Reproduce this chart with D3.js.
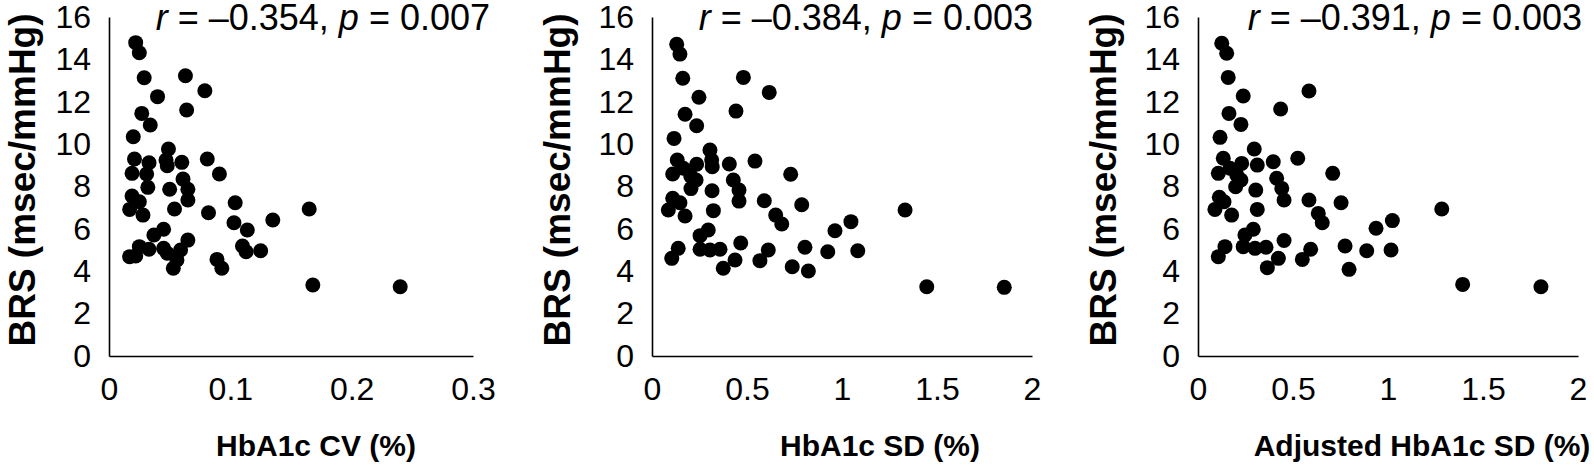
<!DOCTYPE html>
<html>
<head>
<meta charset="utf-8">
<script src="https://cdn.jsdelivr.net/npm/d3@7"></script>
<style>
  body { margin: 0; background: #fff; }
  svg { display: block; font-family: "Liberation Sans", Arial, sans-serif; }
  .domain { stroke: #000; stroke-width: 1.6px; }
</style>
</head>
<body>
<div id="chart"></div>
<script>
// ---- data ----
const brsTicks = [0, 2, 4, 6, 8, 10, 12, 14, 16]
const cvTicks = [0, 0.1, 0.2, 0.3]
const sdTicks = [0, 0.5, 1, 1.5, 2]

const cvX = [0.022, 0.025, 0.029, 0.063, 0.079, 0.040, 0.064, 0.027, 0.034, 0.020, 0.049, 0.021, 0.033, 0.047, 0.048, 0.060, 0.081, 0.019, 0.031, 0.091, 0.061, 0.032, 0.050, 0.065, 0.019, 0.025, 0.065, 0.104, 0.017, 0.028, 0.054, 0.082, 0.165, 0.135, 0.103, 0.114, 0.045, 0.037, 0.065, 0.025, 0.017, 0.022, 0.033, 0.045, 0.048, 0.059, 0.056, 0.053, 0.110, 0.113, 0.125, 0.089, 0.093, 0.168, 0.240]
const cvY = [14.79, 14.31, 13.13, 13.23, 12.52, 12.24, 11.61, 11.45, 10.90, 10.35, 9.77, 9.30, 9.12, 9.25, 8.98, 9.14, 9.30, 8.62, 8.59, 8.59, 8.35, 7.96, 7.87, 7.87, 7.55, 7.28, 7.36, 7.23, 6.92, 6.65, 6.94, 6.76, 6.94, 6.42, 6.29, 5.95, 5.98, 5.71, 5.47, 5.16, 4.69, 4.72, 5.04, 5.08, 4.85, 5.00, 4.53, 4.14, 5.19, 4.92, 4.97, 4.56, 4.14, 3.35, 3.27]

const sdX = [0.130, 0.147, 0.162, 0.481, 0.617, 0.247, 0.442, 0.174, 0.235, 0.116, 0.305, 0.133, 0.235, 0.314, 0.317, 0.407, 0.542, 0.109, 0.165, 0.204, 0.232, 0.730, 0.428, 0.205, 0.316, 0.458, 0.109, 0.147, 0.458, 0.591, 0.788, 0.086, 0.174, 0.323, 1.332, 0.651, 0.683, 1.047, 0.963, 0.296, 0.253, 0.467, 0.138, 0.104, 0.253, 0.305, 0.358, 0.437, 0.375, 0.612, 0.568, 0.805, 0.738, 0.823, 0.925, 1.083, 1.446, 1.854]
const sdY = [14.71, 14.25, 13.11, 13.15, 12.44, 12.21, 11.56, 11.41, 10.87, 10.27, 9.72, 9.25, 9.05, 9.25, 8.93, 9.06, 9.20, 8.59, 8.86, 8.49, 8.31, 8.58, 8.31, 7.90, 7.80, 7.83, 7.44, 7.23, 7.31, 7.33, 7.14, 6.89, 6.61, 6.86, 6.89, 6.65, 6.23, 6.34, 5.91, 5.95, 5.68, 5.33, 5.08, 4.61, 5.04, 5.00, 5.04, 4.53, 4.14, 5.00, 4.50, 5.13, 4.21, 4.01, 4.92, 4.97, 3.27, 3.24]

const adjX = [0.125, 0.151, 0.159, 0.584, 0.238, 0.435, 0.163, 0.226, 0.116, 0.296, 0.133, 0.230, 0.312, 0.396, 0.525, 0.107, 0.168, 0.204, 0.226, 0.709, 0.414, 0.198, 0.304, 0.441, 0.112, 0.137, 0.453, 0.584, 0.753, 0.089, 0.177, 0.312, 1.283, 0.633, 0.654, 1.023, 0.937, 0.291, 0.247, 0.453, 0.142, 0.107, 0.238, 0.300, 0.358, 0.423, 0.365, 0.593, 0.549, 0.774, 0.795, 0.888, 1.016, 1.393, 1.805]
const adjY = [14.76, 14.29, 13.15, 12.51, 12.27, 11.66, 11.45, 10.93, 10.32, 9.77, 9.33, 9.09, 9.01, 9.17, 9.33, 8.62, 8.86, 8.54, 8.31, 8.62, 8.39, 7.99, 7.83, 7.91, 7.49, 7.28, 7.36, 7.36, 7.23, 6.92, 6.65, 6.92, 6.94, 6.73, 6.29, 6.39, 6.03, 5.98, 5.71, 5.45, 5.16, 4.69, 5.16, 5.08, 5.13, 4.61, 4.17, 5.04, 4.56, 5.19, 4.09, 4.97, 5.00, 3.38, 3.27]

const xTitles = ["HbA1c CV (%)", "HbA1c SD (%)", "Adjusted HbA1c SD (%)"]
const yTitle = "BRS (msec/mmHg)"
const rValues = ["–0.354", "–0.384", "–0.391"]
const pValues = ["0.007", "0.003", "0.003"]

// ---- layout ----
const WIDTH = 1594
const HEIGHT = 470
const Y_TOP = 17
const Y_BOTTOM = 356

const panels = [
  { xs: cvX, ys: cvY, ticks: cvTicks, max: 0.3, left: 109, right: 473, yTitleX: 22, titleX: 316, statX: 490 },
  { xs: sdX, ys: sdY, ticks: sdTicks, max: 2, left: 652, right: 1032, yTitleX: 557, titleX: 880, statX: 1033 },
  { xs: adjX, ys: adjY, ticks: sdTicks, max: 2, left: 1198, right: 1578, yTitleX: 1103, titleX: 1422, statX: 1582 }
]

const svg = d3.select("#chart").append("svg")
  .attr("width", WIDTH)
  .attr("height", HEIGHT)

const y = d3.scaleLinear().domain([0, 16]).range([Y_BOTTOM, Y_TOP])

panels.forEach((p, i) => {
  const g = svg.append("g")

  const x = d3.scaleLinear().domain([0, p.max]).range([p.left, p.right])

  // y axis
  const yAxis = g.append("g")
    .attr("transform", `translate(${p.left}, 0)`)
    .call(d3.axisLeft(y).tickValues(brsTicks).tickSize(0).tickPadding(18).tickSizeOuter(0))
  yAxis.selectAll("text")
    .attr("font-size", "32px")
    .attr("font-family", "Liberation Sans, Arial, sans-serif")
    .attr("fill", "#000")

  // x axis
  const xAxis = g.append("g")
    .attr("transform", `translate(0, ${Y_BOTTOM})`)
    .call(d3.axisBottom(x).tickValues(p.ticks).tickSize(0).tickPadding(21).tickSizeOuter(0)
      .tickFormat(d3.format("")))
  xAxis.selectAll("text")
    .attr("font-size", "32px")
    .attr("font-family", "Liberation Sans, Arial, sans-serif")
    .attr("fill", "#000")

  // points
  const pts = p.xs.map((v, k) => ({ x: v, y: p.ys[k] }))
  g.selectAll(".dot")
    .data(pts)
    .enter().append("circle")
      .attr("class", "dot")
      .attr("cx", d => x(d.x))
      .attr("cy", d => y(d.y))
      .attr("r", 7.5)
      .attr("fill", "#000")

  // y title
  g.append("text")
    .attr("transform", `translate(${p.yTitleX}, 180) rotate(-90)`)
    .attr("text-anchor", "middle")
    .attr("dy", "0.35em")
    .attr("font-size", "37px")
    .attr("font-weight", "bold")
    .text(yTitle)

  // x title
  g.append("text")
    .attr("x", p.titleX)
    .attr("y", 456)
    .attr("text-anchor", "middle")
    .attr("font-size", "30px")
    .attr("font-weight", "bold")
    .text(xTitles[i])

  // correlation text
  const stat = g.append("text")
    .attr("x", p.statX)
    .attr("y", 30)
    .attr("text-anchor", "end")
    .attr("font-size", "36px")
  stat.append("tspan").attr("font-style", "italic").text("r")
  stat.append("tspan").text(` = ${rValues[i]}, `)
  stat.append("tspan").attr("font-style", "italic").text("p")
  stat.append("tspan").text(` = ${pValues[i]}`)
})
</script>
</body>
</html>
